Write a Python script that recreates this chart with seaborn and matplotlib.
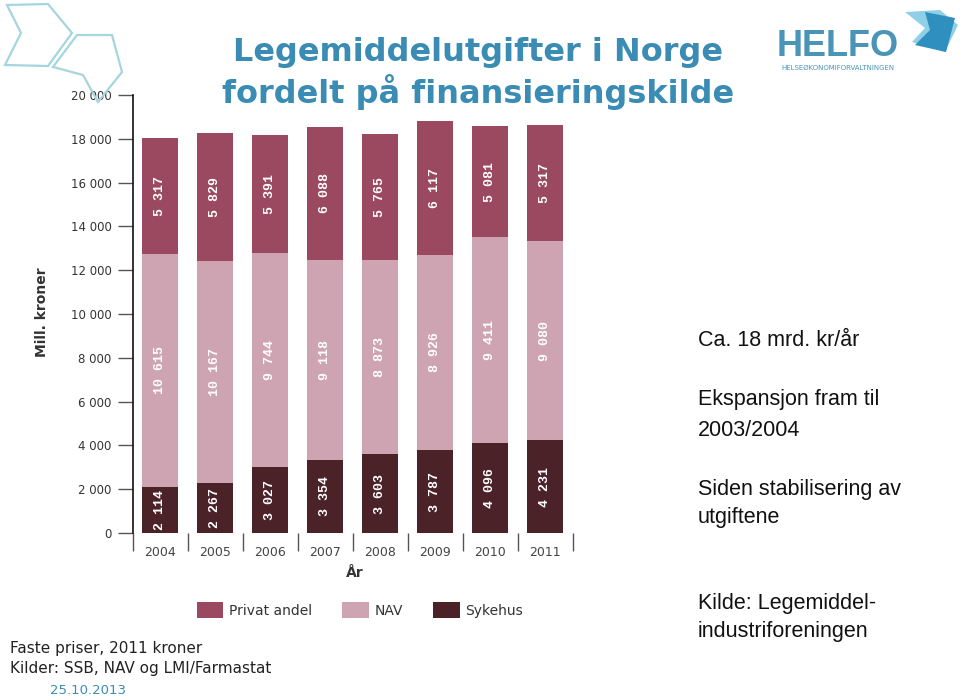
import matplotlib
matplotlib.use("Agg")
import matplotlib.pyplot as plt
from matplotlib.patches import Polygon
from matplotlib.ticker import FixedLocator, FuncFormatter
import seaborn as sns
import pandas as pd
import numpy as np

# ---- data ----
years = ["2004", "2005", "2006", "2007", "2008", "2009", "2010", "2011"]
sykehus = [2114, 2267, 3027, 3354, 3603, 3787, 4096, 4231]
nav = [10615, 10167, 9744, 9118, 8873, 8926, 9411, 9080]
privat = [5317, 5829, 5391, 6088, 5765, 6117, 5081, 5317]
series_names = ["Privat andel", "NAV", "Sykehus"]
yticks = list(range(0, 20001, 2000))

c_privat = "#9a4961"
c_nav = "#cfa4b2"
c_syk = "#4a2228"
teal = "#3a8cb4"

sns.set_theme(style="white")
plt.rcParams["font.family"] = ["DejaVu Sans"]

df = pd.DataFrame({"År": years, "Sykehus": sykehus, "NAV": nav, "Privat": privat})
df["syk_top"] = df["Sykehus"]
df["nav_top"] = df["Sykehus"] + df["NAV"]
df["total"] = df["nav_top"] + df["Privat"]

W, H = 960, 700
fig = plt.figure(figsize=(W / 100, H / 100), dpi=100)
ax = fig.add_axes([132.5 / W, 1 - 533 / H, 440 / W, 438 / H])

bw = 0.64
sns.barplot(data=df, x="År", y="total", color=c_privat, saturation=1, width=bw,
            ax=ax, label=series_names[0], edgecolor="none")
sns.barplot(data=df, x="År", y="nav_top", color=c_nav, saturation=1, width=bw,
            ax=ax, label=series_names[1], edgecolor="none")
sns.barplot(data=df, x="År", y="syk_top", color=c_syk, saturation=1, width=bw,
            ax=ax, label=series_names[2], edgecolor="none")

def fmt(v):
    return f"{int(v):,}".replace(",", " ")

for i in range(len(years)):
    segs = [(0, sykehus[i]), (sykehus[i], sykehus[i] + nav[i]),
            (sykehus[i] + nav[i], sykehus[i] + nav[i] + privat[i])]
    vals = [sykehus[i], nav[i], privat[i]]
    for (lo, hi), v in zip(segs, vals):
        ax.text(i, (lo + hi) / 2, fmt(v), rotation=90, ha="center", va="center",
                color="white", fontsize=9.5, fontweight="bold",
                family=["Liberation Mono", "DejaVu Sans Mono"])

ax.set_xlim(-0.5, 7.5)
ax.set_ylim(0, 20000)
ax.set_yticks(yticks)
ax.yaxis.set_major_formatter(FuncFormatter(lambda v, p: fmt(v)))
ax.tick_params(axis="y", which="major", left=True, length=11, width=1, color="#555555",
               labelsize=8.5, labelcolor="#333333", pad=4)
ax.tick_params(axis="x", which="major", bottom=False, labelsize=9, labelcolor="#444444", pad=3)
ax.xaxis.set_minor_locator(FixedLocator(np.arange(-0.5, 7.6, 1.0)))
ax.tick_params(axis="x", which="minor", bottom=True, length=13, width=1, color="#555555",
               direction="out")
for s in ["top", "right", "bottom"]:
    ax.spines[s].set_visible(False)
ax.spines["left"].set_color("#111111")
ax.spines["left"].set_linewidth(1.2)
ax.set_xlabel("")
ax.set_ylabel("")

# legend
handles, labels = ax.get_legend_handles_labels()
fig.legend(handles, labels, loc="center", bbox_to_anchor=(360 / W, 1 - 610 / H), ncol=3,
           frameon=False, fontsize=10, handlelength=1.9, handleheight=1.3,
           columnspacing=2.2, handletextpad=0.4, labelcolor="#333333")
if ax.get_legend() is not None:
    ax.get_legend().remove()

# axis labels
fig.text(355 / W, 1 - 573 / H, "År", ha="center", va="center", fontsize=10,
         fontweight="bold", color="#333333")
fig.text(42 / W, 1 - 312 / H, "Mill. kroner", ha="center", va="center", fontsize=10,
         fontweight="bold", rotation=90, color="#333333")

# title
fig.text(478 / W, 1 - 52 / H, "Legemiddelutgifter i Norge", ha="center", va="center",
         fontsize=23, fontweight="bold", color=teal)
fig.text(478 / W, 1 - 92 / H, "fordelt på finansieringskilde", ha="center", va="center",
         fontsize=23, fontweight="bold", color=teal)

# right-side notes
rf = ["Liberation Sans", "DejaVu Sans"]
notes = [(340, "Ca. 18 mrd. kr/år"), (400, "Ekspansjon fram til"), (430, "2003/2004"),
         (490, "Siden stabilisering av"), (517, "utgiftene"),
         (603, "Kilde: Legemiddel-"), (631, "industriforeningen")]
for y, t in notes:
    fig.text(698 / W, 1 - y / H, t, ha="left", va="center", fontsize=15.5,
             color="#111111", family=rf)

# bottom-left notes
fig.text(10 / W, 1 - 648 / H, "Faste priser, 2011 kroner", ha="left", va="center",
         fontsize=11, color="#222222")
fig.text(10 / W, 1 - 668 / H, "Kilder: SSB, NAV og LMI/Farmastat", ha="left", va="center",
         fontsize=11, color="#222222")
fig.text(50 / W, 1 - 690 / H, "25.10.2013", ha="left", va="center", fontsize=9.5,
         color=teal)

# decorative outlines top-left
def px(pts):
    return [(x / W, 1 - y / H) for x, y in pts]

shape1 = px([(7, 5), (48, 4), (72, 33), (48, 66), (5, 65), (21, 33)])
shape2 = px([(53, 67), (77, 35), (112, 35), (122, 72), (98, 102), (83, 75)])
for s in (shape1, shape2):
    fig.patches.append(Polygon(s, closed=True, fill=False, edgecolor="#a6d4df",
                               linewidth=1.6, transform=fig.transFigure))

# HELFO logo approximation
fig.text(838 / W, 1 - 56 / H, "HELFO", ha="center", va="baseline", fontsize=26,
         fontweight="bold", color="#4a94b8", family=["Liberation Sans", "DejaVu Sans"])
fig.text(838 / W, 1 - 68 / H, "HELSEØKONOMIFORVALTNINGEN", ha="center", va="center",
         fontsize=5, color="#4a94b8")
fig.patches.append(Polygon(px([(905, 12), (940, 10), (958, 25), (945, 52), (912, 42), (925, 28)]),
                           closed=True, facecolor="#8fd0e8", edgecolor="none",
                           transform=fig.transFigure))
fig.patches.append(Polygon(px([(925, 12), (955, 18), (946, 52), (915, 45), (930, 30)]),
                           closed=True, facecolor="#2f8fbf", edgecolor="none",
                           transform=fig.transFigure))

fig.savefig("out.png", dpi=100)
